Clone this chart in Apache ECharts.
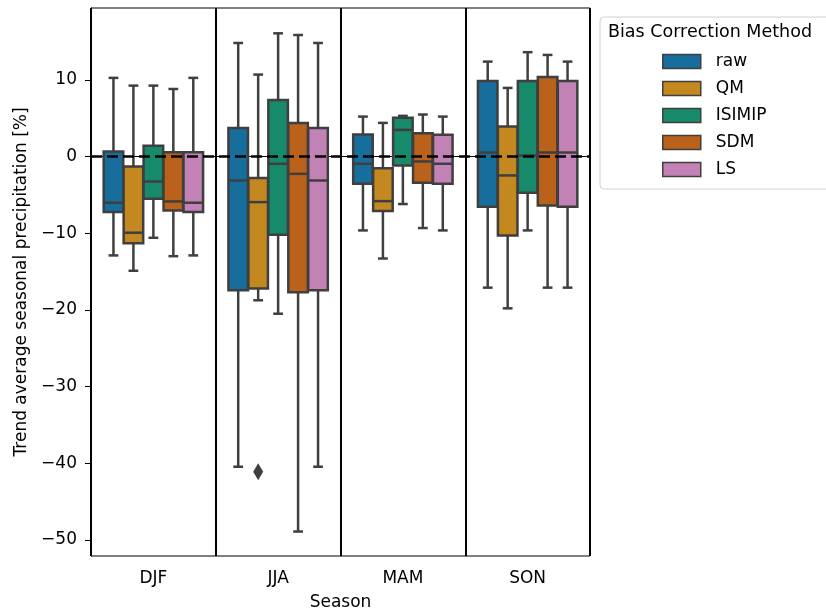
<!DOCTYPE html>
<html><head><meta charset="utf-8">
<script src="https://cdn.jsdelivr.net/npm/echarts@6/dist/echarts.min.js"></script>
<style>html,body{margin:0;padding:0;background:#fff}#c{width:826px;height:612px}</style>
</head><body><div id="c"></div>
<script>
const seasons = ['DJF', 'JJA', 'MAM', 'SON'];
const methods = ['raw', 'QM', 'ISIMIP', 'SDM', 'LS'];
// per season: [lower whisker, Q1, median, Q3, upper whisker]
const rawStats    = [[-12.9, -7.25, -6.03, 0.65, 10.25], [-40.45, -17.45, -3.13, 3.73, 14.8], [-9.64, -3.56, -0.95, 2.86, 5.2], [-17.1, -6.55, 0.52, 9.85, 12.37]];
const qmStats     = [[-14.9, -11.3, -9.94, -1.3, 9.24], [-18.75, -17.2, -5.95, -2.82, 10.68], [-13.3, -7.12, -5.82, -1.52, 4.38], [-19.8, -10.3, -2.47, 3.9, 8.94]];
const isimipStats = [[-10.6, -5.5, -3.26, 1.39, 9.24], [-20.5, -10.2, -0.95, 7.38, 16.06], [-6.2, -1.17, 3.47, 5.04, 5.3], [-9.64, -4.73, 0.13, 9.85, 13.6]];
const sdmStats    = [[-13.0, -7.03, -5.86, 0.56, 8.8], [-48.9, -17.7, -2.26, 4.38, 15.84], [-9.33, -3.43, -0.65, 3.04, 5.47], [-17.1, -6.38, 0.52, 10.37, 13.24]];
const lsStats     = [[-12.9, -7.25, -6.03, 0.56, 10.25], [-40.45, -17.45, -3.13, 3.73, 14.8], [-9.64, -3.56, -0.95, 2.82, 5.2], [-17.1, -6.55, 0.52, 9.85, 12.37]];
const outlierSeason = ['JJA'];
const outlierMethod = [1];
const outlierValue = [-41.1];
const yTicks = [-50, -40, -30, -20, -10, 0, 10];
const colors = ['#176d9c', '#c38820', '#168a6a', '#ba611b', '#c282b5'];

const allStats = [rawStats, qmStats, isimipStats, sdmStats, lsStats];
const EDGE = '#3f3f3f';
const FONT = 'DejaVu Sans';
const LW = 2.5;

function boxRender(m) {
  return function (params, api) {
    const cat = api.value(0);
    const band = api.size([1, 0])[0];
    const off = (m - 2) * 0.16 * band;
    const w = 0.16 * 0.98 * band;
    const xc = api.coord([cat, 0])[0] + off;
    const ys = [1, 2, 3, 4, 5].map(i => api.coord([cat, api.value(i)])[1]);
    const ls = { stroke: EDGE, lineWidth: LW };
    return {
      type: 'group',
      children: [
        { type: 'line', shape: { x1: xc, y1: ys[0], x2: xc, y2: ys[1] }, style: ls },
        { type: 'line', shape: { x1: xc, y1: ys[3], x2: xc, y2: ys[4] }, style: ls },
        { type: 'line', shape: { x1: xc - w / 4, y1: ys[0], x2: xc + w / 4, y2: ys[0] }, style: ls },
        { type: 'line', shape: { x1: xc - w / 4, y1: ys[4], x2: xc + w / 4, y2: ys[4] }, style: ls },
        { type: 'rect', shape: { x: xc - w / 2, y: ys[3], width: w, height: ys[1] - ys[3] }, style: { fill: colors[m], stroke: EDGE, lineWidth: LW } },
        { type: 'line', shape: { x1: xc - w / 2, y1: ys[2], x2: xc + w / 2, y2: ys[2] }, style: ls }
      ]
    };
  };
}

const series = methods.map((name, m) => ({
  name: name,
  type: 'custom',
  renderItem: boxRender(m),
  itemStyle: { color: colors[m] },
  encode: { x: 0, y: [1, 2, 3, 4, 5] },
  data: seasons.map((s, i) => [s].concat(allStats[m][i])),
  clip: false,
  z: 3
}));

series.push({
  name: 'outliers',
  type: 'custom',
  encode: { x: 0, y: 2 },
  data: outlierSeason.map((s, i) => [s, outlierMethod[i], outlierValue[i]]),
  renderItem: function (params, api) {
    const cat = api.value(0);
    const band = api.size([1, 0])[0];
    const m = api.value(1);
    const p = api.coord([cat, api.value(2)]);
    const xc = p[0] + (m - 2) * 0.16 * band;
    const y = p[1];
    return { type: 'polygon', shape: { points: [[xc, y - 8.5], [xc + 5, y], [xc, y + 8.5], [xc - 5, y]] }, style: { fill: EDGE } };
  },
  z: 3
});

series.push({
  name: 'zero',
  type: 'custom',
  data: [],
  renderItem: function () { return null; },
  markLine: {
    silent: true,
    symbol: 'none',
    label: { show: false },
    lineStyle: { color: '#000', width: 2.5, type: [11, 5] },
    data: [{ yAxis: 0 }],
    z: 10
  }
});

const chart = echarts.init(document.getElementById('c'), null, { renderer: 'canvas' });
chart.setOption({
  animation: false,
  backgroundColor: '#fff',
  textStyle: { fontFamily: FONT },
  grid: { left: 91, right: 236, top: 8, bottom: 56, show: true, borderColor: '#000', borderWidth: 1, backgroundColor: 'transparent',
    containLabel: false, outerBoundsMode: 'none' },
  xAxis: {
    type: 'category',
    data: seasons,
    boundaryGap: true,
    axisLine: { lineStyle: { color: '#000', width: 1 } },
    axisTick: { alignWithLabel: true, length: 6, lineStyle: { color: '#000' } },
    axisLabel: { fontSize: 17, color: '#000', margin: 14, fontFamily: FONT },
    splitLine: { show: true, lineStyle: { color: '#000', width: 2 } },
    name: 'Season',
    nameLocation: 'middle',
    nameGap: 38,
    nameTextStyle: { fontSize: 17, color: '#000', fontFamily: FONT }
  },
  yAxis: {
    type: 'value',
    min: -52.09,
    max: 19.36,
    axisLine: { show: true, lineStyle: { color: '#000', width: 1 } },
    axisTick: { show: true, length: 6, customValues: yTicks, lineStyle: { color: '#000' } },
    axisLabel: { fontSize: 17, color: '#000', margin: 14, customValues: yTicks, fontFamily: FONT,
      formatter: v => String(v).replace('-', '\u2212') },
    splitLine: { show: false },
    name: 'Trend average seasonal precipitation [%]',
    nameLocation: 'middle',
    nameGap: 59,
    nameTextStyle: { fontSize: 17, color: '#000', fontFamily: FONT }
  },
  legend: {
    data: methods,
    orient: 'vertical',
    left: 600,
    top: 17,
    padding: [36, 70, 11, 62],
    itemGap: 10,
    itemWidth: 38,
    itemHeight: 14,
    icon: 'rect',
    selectedMode: false,
    backgroundColor: '#fff',
    borderColor: '#d0d0d0',
    borderWidth: 1,
    borderRadius: 4,
    itemStyle: { borderColor: EDGE, borderWidth: 1.5 },
    textStyle: { fontSize: 17, color: '#000', fontFamily: FONT, padding: [0, 0, 0, 10] }
  },
  graphic: [{
    type: 'text', left: 608, top: 23, z: 100,
    style: { text: 'Bias Correction Method', fontSize: 17.5, fontFamily: FONT, fill: '#000' }
  }],
  series: series
});
</script></body></html>
